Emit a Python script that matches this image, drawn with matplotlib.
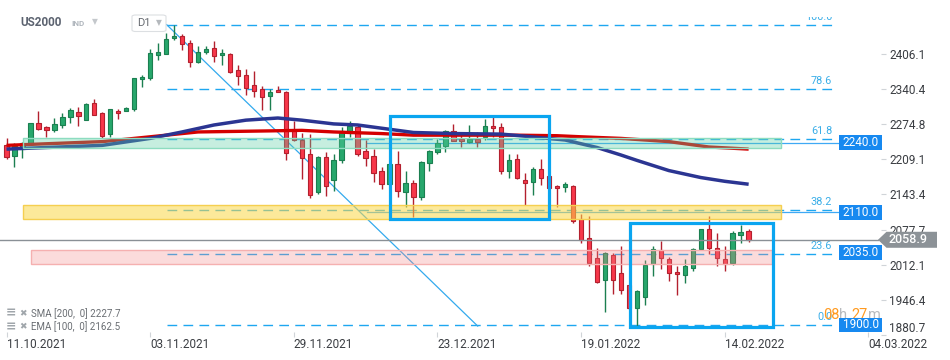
import matplotlib.pyplot as plt
from matplotlib.patches import Rectangle, Polygon, FancyBboxPatch
import numpy as np

plt.rcParams['font.family'] = ['Roboto', 'DejaVu Sans']

# daily candles, US2000
opens = [2234.8, 2216.0, 2227.9, 2239.7, 2276.2, 2269.8, 2263.0, 2272.4, 2287.5, 2296.9,
         2283.0, 2313.8, 2295.0, 2255.5, 2298.8, 2299.9, 2302.5, 2358.9, 2360.0, 2404.0,
         2405.9, 2435.2, 2439.0, 2426.6, 2390.9, 2408.9, 2417.2, 2402.7, 2406.0, 2375.8,
         2367.0, 2347.6, 2339.7, 2326.2, 2338.8, 2335.0, 2262.7, 2244.8, 2219.8, 2148.9,
         2213.4, 2169.6, 2207.2, 2257.4, 2268.7, 2224.1, 2215.3, 2187.8, 2163.4, 2201.0,
         2148.4, 2165.3, 2138.2, 2202.9, 2222.8, 2234.1, 2261.2, 2246.1, 2240.5, 2246.1,
         2249.9, 2271.1, 2269.2, 2187.8, 2210.4, 2170.9, 2166.4, 2191.6, 2177.1, 2159.6,
         2157.0, 2159.6, 2097.6, 2061.9, 2024.3, 1984.0, 2029.9, 1996.1, 1974.1, 1931.4,
         1952.1, 2014.1, 2039.3, 2022.4, 1998.5, 1992.3, 2006.6, 2041.2, 2078.8, 2043.1,
         2022.4, 2016.0, 2068.6, 2075.0]
highs = [2248.0, 2238.6, 2241.6, 2277.0, 2299.3, 2271.0, 2285.6, 2295.6, 2304.4, 2306.3,
         2314.4, 2321.9, 2296.9, 2303.0, 2303.1, 2306.0, 2361.5, 2366.4, 2415.3, 2426.6,
         2445.4, 2460.0, 2443.5, 2431.5, 2420.2, 2420.2, 2429.0, 2414.0, 2407.0, 2385.8,
         2378.3, 2374.5, 2346.3, 2340.7, 2346.3, 2336.0, 2279.6, 2258.5, 2256.1, 2215.0,
         2221.7, 2219.8, 2269.8, 2280.5, 2273.0, 2244.8, 2227.3, 2194.6, 2205.0, 2224.1,
         2187.8, 2169.6, 2206.0, 2225.5, 2246.1, 2263.6, 2274.9, 2257.4, 2273.0, 2259.3,
         2284.3, 2288.6, 2276.2, 2219.8, 2219.8, 2184.1, 2194.0, 2209.1, 2188.0, 2162.0,
         2166.4, 2161.0, 2107.0, 2103.2, 2043.6, 2036.1, 2033.7, 2047.4, 1975.0, 1965.0,
         2021.6, 2046.8, 2056.8, 2026.7, 2009.8, 2022.4, 2043.1, 2079.5, 2103.8, 2072.4,
         2047.4, 2075.6, 2085.6, 2078.8]
lows = [2209.6, 2194.6, 2211.9, 2238.0, 2264.0, 2249.9, 2260.4, 2266.8, 2276.2, 2271.7,
        2281.8, 2291.0, 2249.1, 2251.0, 2284.8, 2299.0, 2300.0, 2343.9, 2356.3, 2393.9,
        2404.6, 2431.5, 2412.7, 2380.7, 2389.0, 2405.9, 2390.9, 2385.8, 2370.2, 2346.9,
        2328.1, 2325.1, 2301.2, 2301.2, 2334.0, 2208.5, 2243.0, 2172.8, 2137.1, 2144.6,
        2141.4, 2150.8, 2202.1, 2249.9, 2215.3, 2195.9, 2166.4, 2154.0, 2160.0, 2138.2,
        2119.4, 2101.9, 2133.9, 2186.5, 2219.8, 2222.8, 2243.0, 2232.2, 2239.0, 2232.2,
        2244.8, 2251.0, 2182.2, 2173.4, 2173.0, 2124.5, 2143.3, 2160.2, 2147.0, 2119.4,
        2147.6, 2090.1, 2053.6, 2009.8, 1978.0, 1923.9, 1957.7, 1957.7, 1929.0, 1899.0,
        1937.0, 1991.0, 2004.7, 1981.6, 1955.8, 1978.4, 2000.4, 2040.0, 2032.9, 2009.2,
        1999.8, 2011.1, 2053.6, 2054.9]
closes = [2214.2, 2234.1, 2240.1, 2276.2, 2264.9, 2263.0, 2274.3, 2287.5, 2300.6, 2289.4,
          2312.5, 2291.8, 2252.3, 2302.5, 2295.0, 2304.4, 2360.8, 2363.2, 2407.8, 2408.4,
          2434.1, 2439.8, 2424.7, 2390.9, 2409.7, 2414.0, 2402.2, 2406.5, 2372.1, 2364.6,
          2341.2, 2336.4, 2325.6, 2334.5, 2334.5, 2220.9, 2244.8, 2212.3, 2142.7, 2213.4,
          2158.3, 2208.5, 2262.3, 2271.1, 2219.8, 2212.3, 2184.1, 2163.4, 2201.0, 2150.2,
          2165.3, 2139.0, 2204.8, 2223.6, 2239.7, 2261.2, 2243.5, 2242.9, 2246.1, 2241.6,
          2271.1, 2266.8, 2187.5, 2208.5, 2174.7, 2165.3, 2191.6, 2174.7, 2155.5, 2155.1,
          2162.1, 2094.4, 2058.1, 2015.4, 1980.7, 2033.7, 1984.0, 1965.2, 1931.4, 1964.1,
          2012.2, 2041.2, 2024.3, 1996.1, 1994.2, 2009.2, 2041.2, 2078.8, 2043.1, 2024.3,
          2014.1, 2071.3, 2073.7, 2058.9]

# moving averages, read at a few bars
sma_idx = [0, 5, 12, 18, 24, 33, 37, 41, 47, 51, 58, 64, 69, 72, 77, 83, 88, 93]
sma_val = [2235, 2238, 2242, 2251, 2260, 2262, 2263, 2260, 2257, 2254, 2254, 2254, 2253,
           2251, 2248, 2242, 2232, 2228]
ema_idx = [0, 5, 12, 18, 22, 26, 30, 34, 37, 41, 44, 47, 51, 56, 62, 65, 70, 74, 77, 79,
           83, 87, 90, 93]
ema_val = [2228, 2231, 2235, 2248, 2260, 2273, 2282, 2286, 2282, 2275, 2273, 2267, 2259,
           2257, 2256, 2252, 2245, 2231, 2217, 2207, 2188, 2175, 2168, 2162.5]

tick_idx = [0, 18, 36, 54, 72, 90, 108]
tick_lbl = ["11.10.2021", "03.11.2021", "29.11.2021", "23.12.2021", "19.01.2022",
            "14.02.2022", "04.03.2022"]
price_ticks = [2406.1, 2340.4, 2274.8, 2209.1, 2143.4, 2077.7, 2012.1, 1946.4, 1880.7]

fib_low, fib_high = 1900.0, 2460.0
fib_levels = [0.0, 23.6, 38.2, 61.8, 78.6, 100.0]
levels = [2240.0, 2110.0, 2035.0, 1900.0]
zone_lo = [2231, 2097, 2014]
zone_hi = [2248, 2124, 2040]

# pixel layout of the chart
X0, XSTEP = 6.5, 7.98        # px of first bar, px per bar
PPX = 1.865                  # price per px
TOP = 2506.1
AX_R, AX_B = 881, 337


def bx(px):
    return (px - X0) / XSTEP


fig = plt.figure(figsize=(9.5, 3.6), dpi=100)
ax = fig.add_axes([0, 1 - AX_B / 360, AX_R / 950, AX_B / 360])
ax.set_xlim(bx(0), bx(AX_R))
ax.set_ylim(TOP - PPX * AX_B, TOP)
for s in ax.spines.values():
    s.set_visible(False)

o, h, l, c = map(np.array, (opens, highs, lows, closes))
idx = np.arange(len(o))
up = c >= o
dn = ~up
ax.vlines(idx[up], l[up], h[up], color='#1b7f50', lw=1, zorder=3)
ax.vlines(idx[dn], l[dn], h[dn], color='#b3202e', lw=1, zorder=3)
ax.bar(idx[up], c[up] - o[up], bottom=o[up], width=0.55, color='#27a76c',
       edgecolor='#1b7f50', lw=0.8, zorder=3.1)
ax.bar(idx[dn], o[dn] - c[dn], bottom=c[dn], width=0.55, color='#f7374a',
       edgecolor='#b3202e', lw=0.8, zorder=3.1)

ax.plot(sma_idx, sma_val, color='#d40000', lw=2.4, zorder=3.5, solid_capstyle='butt')
ax.plot(ema_idx, ema_val, color='#2b3592', lw=2.5, zorder=3.6, solid_capstyle='butt')

# zones
zone_x = [(bx(23), bx(781)), (bx(23), bx(781)), (bx(31), bx(771.5))]
zone_fc = ['#5cd1a6', '#fbd748', '#f58a8a']
zone_a = [0.35, 0.55, 0.3]
zone_ec = ['#8ddcc0', '#f5cf50', '#f5b0b0']
for (x1, x2), lo, hi, fc, a, ec in zip(zone_x, zone_lo, zone_hi, zone_fc, zone_a, zone_ec):
    ax.add_patch(Rectangle((x1, lo), x2 - x1, hi - lo, facecolor=fc, alpha=a,
                           edgecolor='none', zorder=4))
    ax.add_patch(Rectangle((x1, lo), x2 - x1, hi - lo, fill=False, edgecolor=ec,
                           lw=1, zorder=4.1))

# fibonacci
fx1, fx2 = bx(166.7), bx(832)
for lv in fib_levels:
    p = fib_low + (fib_high - fib_low) * lv / 100
    ax.plot([fx1, fx2], [p, p], color='#1ea7f0', lw=1, ls=(0, (7, 4.5)), zorder=2)
    ax.annotate(f"{lv:.1f}", (fx2, p), xytext=(0, 3.6), textcoords='offset points',
                ha='right', va='baseline', fontsize=7.8, color='#3aaee8', zorder=2)
ax.plot([fx1, bx(477.7)], [fib_high, fib_low - 2], color='#33aaee', lw=0.9, zorder=2)

# horizontal levels with price tags
for p in levels[:2]:
    ax.plot([bx(366.7), bx(839)], [p, p], color='#3fa9f5', lw=0.9, zorder=2)
for p in levels:
    ax.add_patch(Rectangle((bx(839), p - 7.3 * PPX), bx(882) - bx(839), 14.6 * PPX,
                           facecolor='#1789f0', edgecolor='none', zorder=8, clip_on=False))
    ax.text((bx(839) + bx(882)) / 2, p, f"{p:.1f}", color='white', fontsize=8.5,
            ha='center', va='center', zorder=9, clip_on=False)

# boxes
boxes = [(bx(390), bx(549.3), 2097.1, 2290.3), (bx(630), bx(772.7), 1897.0, 2089.6)]
for x1, x2, lo, hi in boxes:
    ax.add_patch(Rectangle((x1, lo), x2 - x1, hi - lo, fill=False, edgecolor='#0aa5f0',
                           lw=2.3, zorder=6))

# current price
last = closes[-1]
ax.plot([bx(0), bx(878)], [last, last], color='#8a9096', lw=1, zorder=5, clip_on=False)
tag = [(bx(878), last), (bx(886.5), last + 8 * PPX), (bx(937), last + 8 * PPX),
       (bx(937), last - 8 * PPX), (bx(886.5), last - 8 * PPX)]
ax.add_patch(Polygon(tag, closed=True, facecolor='#8c9297', edgecolor='none',
                     zorder=10, clip_on=False))
ax.text(bx(908), last, f"{last:.1f}", color='white', fontsize=9, fontweight='medium',
        ha='center', va='center', zorder=11, clip_on=False)

# countdown
cy = fib_low + 9.5 * PPX
for s, px, col in [("08", 823, '#ff9a1f'), ("h", 839.5, '#b8bbbe'),
                   ("27", 851.5, '#ff9a1f'), ("m", 868, '#b8bbbe')]:
    ax.text(bx(px), cy, s, color=col, fontsize=10.5, ha='left', va='center',
            zorder=7, clip_on=False)

# axes ticks
ax.yaxis.tick_right()
ax.set_yticks(price_ticks)
ax.set_yticklabels([f"{v:.1f}" for v in price_ticks])
ax.tick_params(axis='y', direction='out', length=3.6, width=0.8, color='#d0d4d8',
               pad=2.4, labelsize=8.5, labelcolor='#3a3d42')
ax.get_yticklabels()[-1].set_va('bottom')
ax.set_xticks(tick_idx)
ax.set_xticklabels(tick_lbl)
ax.tick_params(axis='x', direction='in', length=3.5, width=0.8, color='#d0d4d8',
               pad=0.5, labelsize=8.5, labelcolor='#3a3d42')
for t in ax.get_xticklabels():
    t.set_ha('left')

# header
fig.text(20 / 950, 1 - 23 / 360, "US2000", fontsize=8.5, fontweight='bold',
         color='#5c6370', va='center')
fig.text(71 / 950, 1 - 23.5 / 360, "IND", fontsize=5.8, fontweight='bold',
         color='#b0b6bd', va='center')
fig.text(92 / 950, 1 - 22 / 360, "▼", fontsize=5.5, color='#c4c8cc', va='center',
         family=['DejaVu Sans'])
fig.patches.append(FancyBboxPatch((132 / 950, 1 - 31.5 / 360), 34 / 950, 16.5 / 360,
                                  boxstyle='round,pad=0,rounding_size=0.004',
                                  transform=fig.transFigure, facecolor='white',
                                  edgecolor='#dcdfe2', lw=0.8))
fig.text(137 / 950, 1 - 23.5 / 360, "D1", fontsize=8, color='#666a70', va='center')
fig.text(155.5 / 950, 1 - 22.5 / 360, "▼", fontsize=5.5, color='#b5b9bd', va='center',
         family=['DejaVu Sans'])
# top of the 100.0 label is hidden
fig.patches.append(Rectangle((790 / 950, 1 - 17 / 360), 50 / 950, 17 / 360,
                             transform=fig.transFigure, facecolor='white',
                             edgecolor='none', zorder=20))

# legend
for y, txt in [(313.3, "SMA [200,  0] 2227.7"), (326.7, "EMA [100,  0] 2162.5")]:
    fig.text(5.5 / 950, 1 - y / 360, "≡", fontsize=9, color='#a0a6ab', va='center',
             family=['DejaVu Sans'], fontweight='bold')
    fig.text(19.5 / 950, 1 - y / 360, "✖", fontsize=6.5, color='#a0a6ab', va='center',
             family=['DejaVu Sans'])
    fig.text(31 / 950, 1 - y / 360, txt, fontsize=7, color='#6a6e73', va='center')

fig.savefig("out.png", dpi=100, facecolor='white')
